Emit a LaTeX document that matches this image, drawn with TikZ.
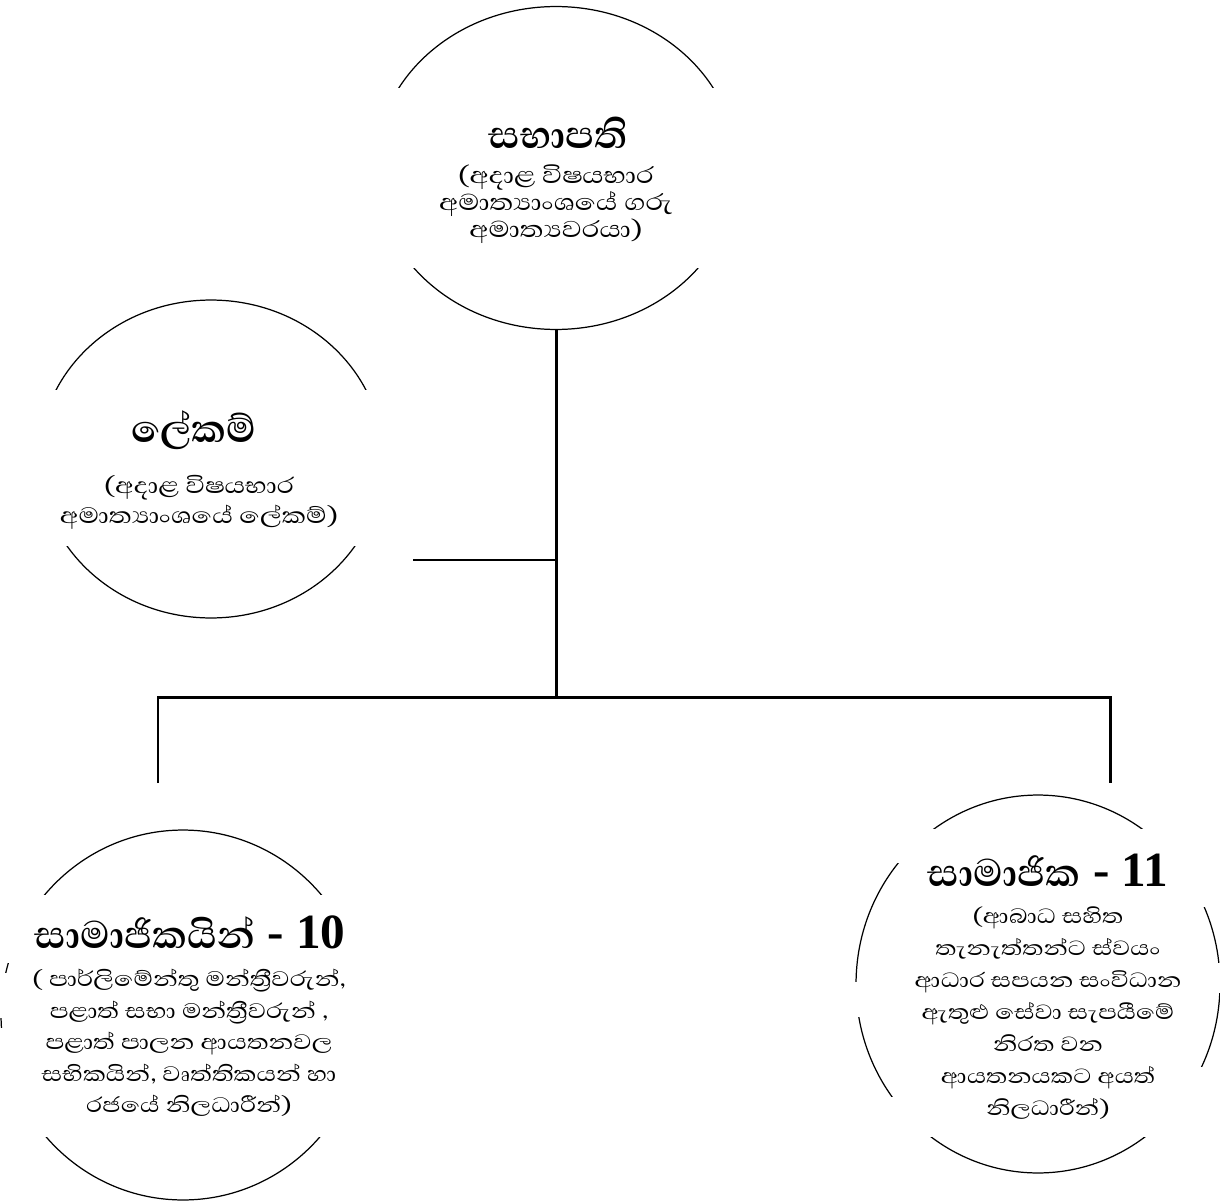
\documentclass[tikz,border=0pt]{standalone}
\usepackage{fontspec}
\setmainfont{Liberation Serif}
\newfontfamily\sinhala[Script=Sinhala]{Abhaya Libre}
\newfontfamily\sinhalawide[Script=Sinhala, FakeStretch=1.2]{Abhaya Libre}
\usetikzlibrary{shapes.geometric}

\tikzset{
  orb/.style={draw, ellipse, line width=0.7pt, inner sep=0pt},
  cover/.style={fill=white},
  head/.style={font=\sinhala\bfseries\fontsize{28}{30}\selectfont, inner sep=0pt},
  body/.style 2 args={font=\sinhalawide\fontsize{#1}{#2}\selectfont, align=center, inner sep=0pt},
  link/.style={line width=1.7pt}
}
\newcommand\latnum[1]{{\rmfamily\fontsize{28}{30}\selectfont\ - #1}}

\begin{document}
\begin{tikzpicture}[x=0.02cm, y=-0.02cm]
\useasboundingbox (0,0) rectangle (1220,1203);

% ellipses
\node[orb, minimum width=7.24cm, minimum height=6.46cm] (chair) at (556,168) {};
\node[orb, minimum width=6.88cm, minimum height=6.36cm] (sec) at (211,459) {};
\node[orb, minimum width=7.28cm, minimum height=7.4cm] (memA) at (183,1015) {};
\node[orb, minimum width=7.28cm, minimum height=7.56cm] (memB) at (1038,984) {};

% white text boxes over the ellipses
\fill[cover] (370,88) rectangle (750,268);
\fill[cover] (30,390) rectangle (392,546);
\fill[cover] (-20,895) rectangle (380,963);
\fill[cover] (10,963) rectangle (380,1028);
\fill[cover] (-20,973) rectangle (10,1018);
\fill[cover] (-20,1028) rectangle (380,1137);
\fill[cover] (905,829) rectangle (1195,1137);
\fill[cover] (840,829) rectangle (905,863);
\fill[cover] (840,982) rectangle (905,1017);
\fill[cover] (840,1097) rectangle (905,1137);
\fill[cover] (1195,829) rectangle (1240,907);
\fill[cover] (1195,963) rectangle (1240,993);
\fill[cover] (1195,1067) rectangle (1240,1137);

% texts
\node[head] (chairhead) at (558,133) {සභාපති};
\node[body={16.7}{15.4}] (chairtxt) at (556,204) {(අදාළ විෂයභාර\\අමාත්^^^^200dයාංශයේ ගරු\\අමාත්^^^^200dයවරයා)};
\node[head] (sechead) at (194,430) {ලේකම්};
\node[body={16.2}{17}] (sectxt) at (199,502) {(අදාළ විෂයභාර\\අමාත්^^^^200dයාංශයේ ලේකම්)};
\node[head] (memAhead) at (190,932) {සාමාජිකයින්\latnum{10}};
\node[body={15.3}{17.9}] (memAtxt) at (189,1043) {( පාර්ලිමේන්තු මන්ත්^^^^200dරීවරුන්,\\පළාත් සභා මන්ත්^^^^200dරීවරුන් ,\\පළාත් පාලන ආයතනවල\\සභිකයින්, වෘත්තිකයන් හා\\රජයේ නිලධාරීන්)};
\node[head] (memBhead) at (1048,870) {සාමාජික\latnum{11}};
\node[body={15}{18.2}] (memBtxt) at (1048,1013) {(ආබාධ සහිත\\තැනැත්තන්ට ස්වයං\\ආධාර සපයන සංවිධාන\\ඇතුළු සේවා සැපයීමේ\\නිරත වන\\ආයතනයකට අයත්\\නිලධාරීන්)};

% connectors
\coordinate (hub) at (chair.south |- 0,697);
\coordinate (secend) at (413,560);
\coordinate (secjoin) at (chair.south |- 0,560);
\coordinate (busL) at (158,697);
\coordinate (busR) at (1110,697);
\coordinate (dropL) at (158,783);
\coordinate (dropR) at (1110,783);
\draw[link] (chair.south) -- (hub);
\draw[link] (secend) -- (secjoin);
\draw[link] (dropL) -- (busL) -- (busR) -- (dropR);
\end{tikzpicture}
\end{document}
